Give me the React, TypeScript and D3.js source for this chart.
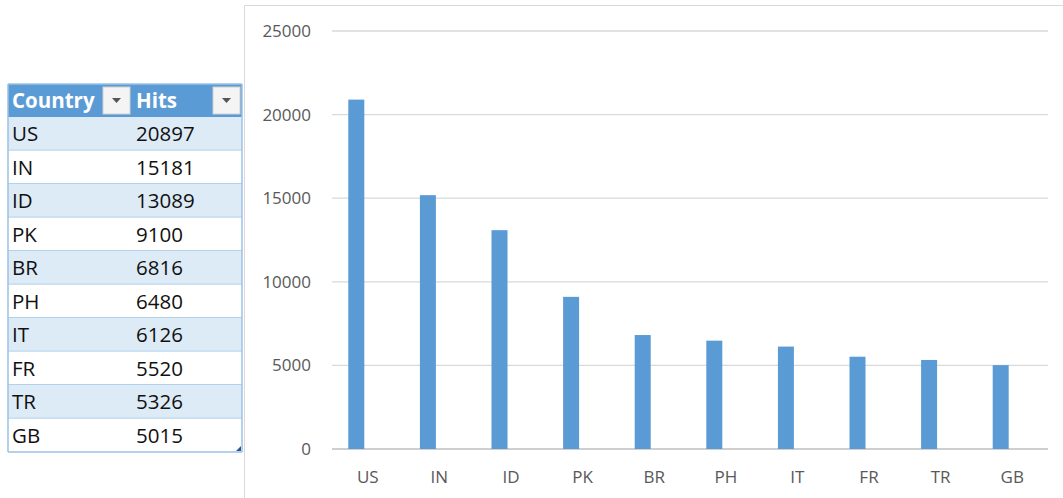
import React from "react";
import * as d3 from "d3";

const countries = ["US", "IN", "ID", "PK", "BR", "PH", "IT", "FR", "TR", "GB"];
const hits = [20897, 15181, 13089, 9100, 6816, 6480, 6126, 5520, 5326, 5015];
const yTicks = [0, 5000, 10000, 15000, 20000, 25000];
const headers = ["Country", "Hits"];

const W = 1063;
const H = 498;

export default function App() {
  const y = d3.scaleLinear().domain([0, 25000]).range([449, 31]);
  const x = d3.scaleBand<string>().domain(countries).range([332, 1048]).padding(0);
  const barW = 16;
  const barOffset = -11.5;

  // table geometry
  const tLeft = 8, tRight = 242, colSplit = 133;
  const headTop = 84, headH = 33, rowH = 33.5;
  const rowsTop = headTop + headH;
  const font = "'Open Sans', 'Liberation Sans', sans-serif";

  return (
    <svg width={W} height={H} style={{ position: "absolute", left: 0, top: 0, background: "#fff" }}>
      {/* table */}
      <g fontFamily={font}>
        <rect x={tLeft} y={headTop} width={tRight - tLeft} height={headH} fill="#5b9bd5" />
        {countries.map((c, i) => (
          <g key={c}>
            <rect x={tLeft} y={rowsTop + i * rowH} width={tRight - tLeft} height={rowH}
              fill={i % 2 === 0 ? "#ddebf7" : "#ffffff"} />
            <line x1={tLeft} x2={tRight} y1={rowsTop + (i + 1) * rowH} y2={rowsTop + (i + 1) * rowH}
              stroke="#9bc2e6" strokeWidth={1.5} />
            <text x={12} y={rowsTop + i * rowH + rowH / 2 + 7.5} fontSize={20.5} fill="#111">{c}</text>
            <text x={136} y={rowsTop + i * rowH + rowH / 2 + 7.5} fontSize={20.5} fill="#111">{hits[i]}</text>
          </g>
        ))}
        <line x1={tLeft} x2={tLeft} y1={headTop} y2={rowsTop + 10 * rowH} stroke="#9bc2e6" strokeWidth={1.5} />
        <line x1={tRight} x2={tRight} y1={headTop} y2={rowsTop + 10 * rowH} stroke="#9bc2e6" strokeWidth={1.5} />
        <line x1={tLeft} x2={tRight} y1={headTop} y2={headTop} stroke="#9bc2e6" strokeWidth={1.5} />
        <text x={12} y={headTop + headH / 2 + 7.5} fontSize={20.5} fontWeight="bold" fill="#fff">{headers[0]}</text>
        <text x={colSplit + 3} y={headTop + headH / 2 + 7.5} fontSize={20.5} fontWeight="bold" fill="#fff">{headers[1]}</text>
        {[103, 213].map((bx) => (
          <g key={bx}>
            <rect x={bx} y={headTop + 3} width={27} height={27} fill="#f4f4f4" stroke="#d0d0d0" />
            <path d={`M${bx + 9},${headTop + 14} L${bx + 18},${headTop + 14} L${bx + 13.5},${headTop + 19} Z`} fill="#555" />
          </g>
        ))}
        <path d={`M${tRight - 1},${rowsTop + 10 * rowH - 6} L${tRight - 1},${rowsTop + 10 * rowH - 1} L${tRight - 6},${rowsTop + 10 * rowH - 1} Z`} fill="#2f5597" />
      </g>

      {/* chart panel */}
      <line x1={244.5} x2={244.5} y1={5} y2={H} stroke="#d9d9d9" />
      <line x1={244.5} x2={W} y1={5.5} y2={5.5} stroke="#d9d9d9" />

      <g fontFamily={font} fontSize={17} fill="#595959">
        {yTicks.map((t) => (
          <g key={t}>
            <line x1={332} x2={1048} y1={y(t)} y2={y(t)} stroke={t === 0 ? "#bfbfbf" : "#d9d9d9"} strokeWidth={1.3} />
            <text x={311} y={y(t) + 6} textAnchor="end">{t}</text>
          </g>
        ))}
        {countries.map((c, i) => {
          const cx = (x(c) as number) + x.bandwidth() / 2;
          return (
            <g key={c}>
              <rect x={cx + barOffset - barW / 2} y={y(hits[i])} width={barW} height={y(0) - y(hits[i])} fill="#5b9bd5" />
              <text x={cx} y={483} textAnchor="middle">{c}</text>
            </g>
          );
        })}
      </g>
    </svg>
  );
}
